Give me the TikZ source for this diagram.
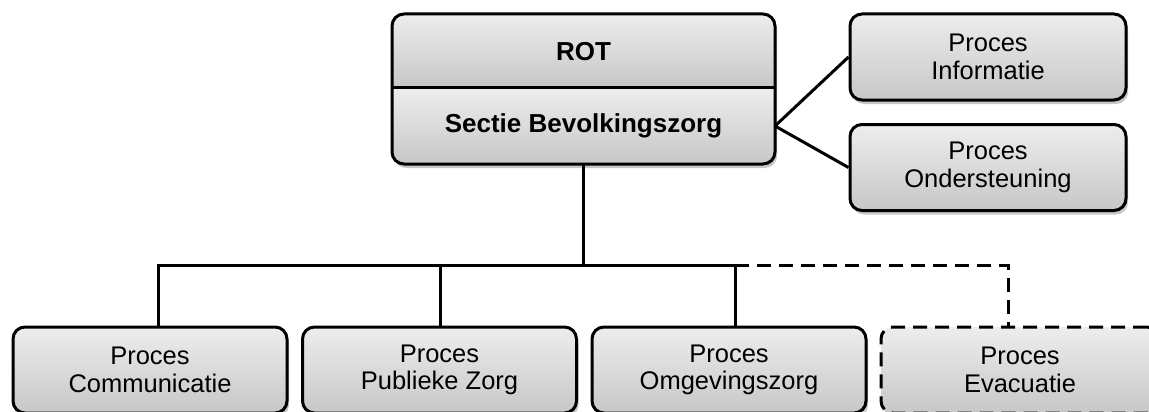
\documentclass[tikz,border=0pt]{standalone}
\usepackage{fontspec}
\setmainfont{Liberation Sans}
\usetikzlibrary{shadows}
\definecolor{boxtop}{gray}{0.93}
\definecolor{boxbot}{gray}{0.78}
\begin{document}
\begin{tikzpicture}[x=1pt,y=-1pt,
  shadowed/.style={drop shadow={shadow xshift=2pt,shadow yshift=-4pt,fill=black,opacity=0.22}},
  box/.style={draw=black,line width=3pt,rounded corners=12pt,top color=boxtop,bottom color=boxbot,
    shadowed,align=center,inner sep=0pt,minimum width=274pt,minimum height=86pt,
    font=\fontsize{25.5}{27.5}\selectfont},
  dbox/.style={box,dash pattern=on 14pt off 8pt},
  lbl/.style={inner sep=0pt,outer sep=0pt,font=\fontsize{26}{30}\selectfont\bfseries},
  link/.style={line width=3pt},
  dlink/.style={line width=3pt,dash pattern=on 14pt off 8pt}]
\useasboundingbox (0,0) rectangle (1149,412);
\fill[white] (0,0) rectangle (1149,412);

% top box
\node[inner sep=0pt,outer sep=0pt,minimum width=383pt,minimum height=150pt,rounded corners=12pt,shadowed] (top) at (583.5,89) {};
\begin{scope}
  \clip[rounded corners=12pt] (top.north west) rectangle (top.south east);
  \shade[top color=boxtop,bottom color=boxbot] (top.north west) rectangle (top.east |- 0,88);
  \shade[top color=boxtop,bottom color=boxbot] (top.west |- 0,88) rectangle (top.south east);
\end{scope}
\draw[line width=3pt,rounded corners=12pt] (top.north west) rectangle (top.south east);
\draw[link] (top.west |- 0,88) -- (top.east |- 0,88);
\node[lbl] (rot) at (583.5,52) {ROT};
\node[lbl,minimum width=383pt,minimum height=76pt] (sectie) at (583.5,126) {Sectie Bevolkingszorg};

% right boxes
\node[box,minimum width=276pt] (info) at (988,57) {Proces\\Informatie};
\node[box,minimum width=276pt] (onder) at (988,167.5) {Proces\\Ondersteuning};

% bottom boxes
\node[box] (comm) at (150,370) {Proces\\Communicatie};
\node[box] (publ) at (439.5,370) {Proces\\Publieke Zorg};
\node[box] (omg) at (729,370) {Proces\\Omgevingszorg};
\node[dbox,minimum width=278pt] (evac) at (1020,370) {Proces\\Evacuatie};

% connectors
\coordinate (hub) at (583.5,265);
\coordinate (hl) at (158,265);
\coordinate (hm) at (440,265);
\coordinate (hr) at (735,265);
\coordinate (he) at (1008,265);
\draw[link] (sectie.east) -- (info.west);
\draw[link] (sectie.east) -- (onder.west);
\draw[link] (top.south) -- (hub);
\draw[link,line cap=rect] (hl) -- (hr);
\draw[link] (hl) -- (hl |- comm.north);
\draw[link] (hm) -- (hm |- publ.north);
\draw[link] (hr) -- (hr |- omg.north);
\draw[dlink] (hr) -- (he) -- (he |- evac.north);
\end{tikzpicture}
\end{document}
